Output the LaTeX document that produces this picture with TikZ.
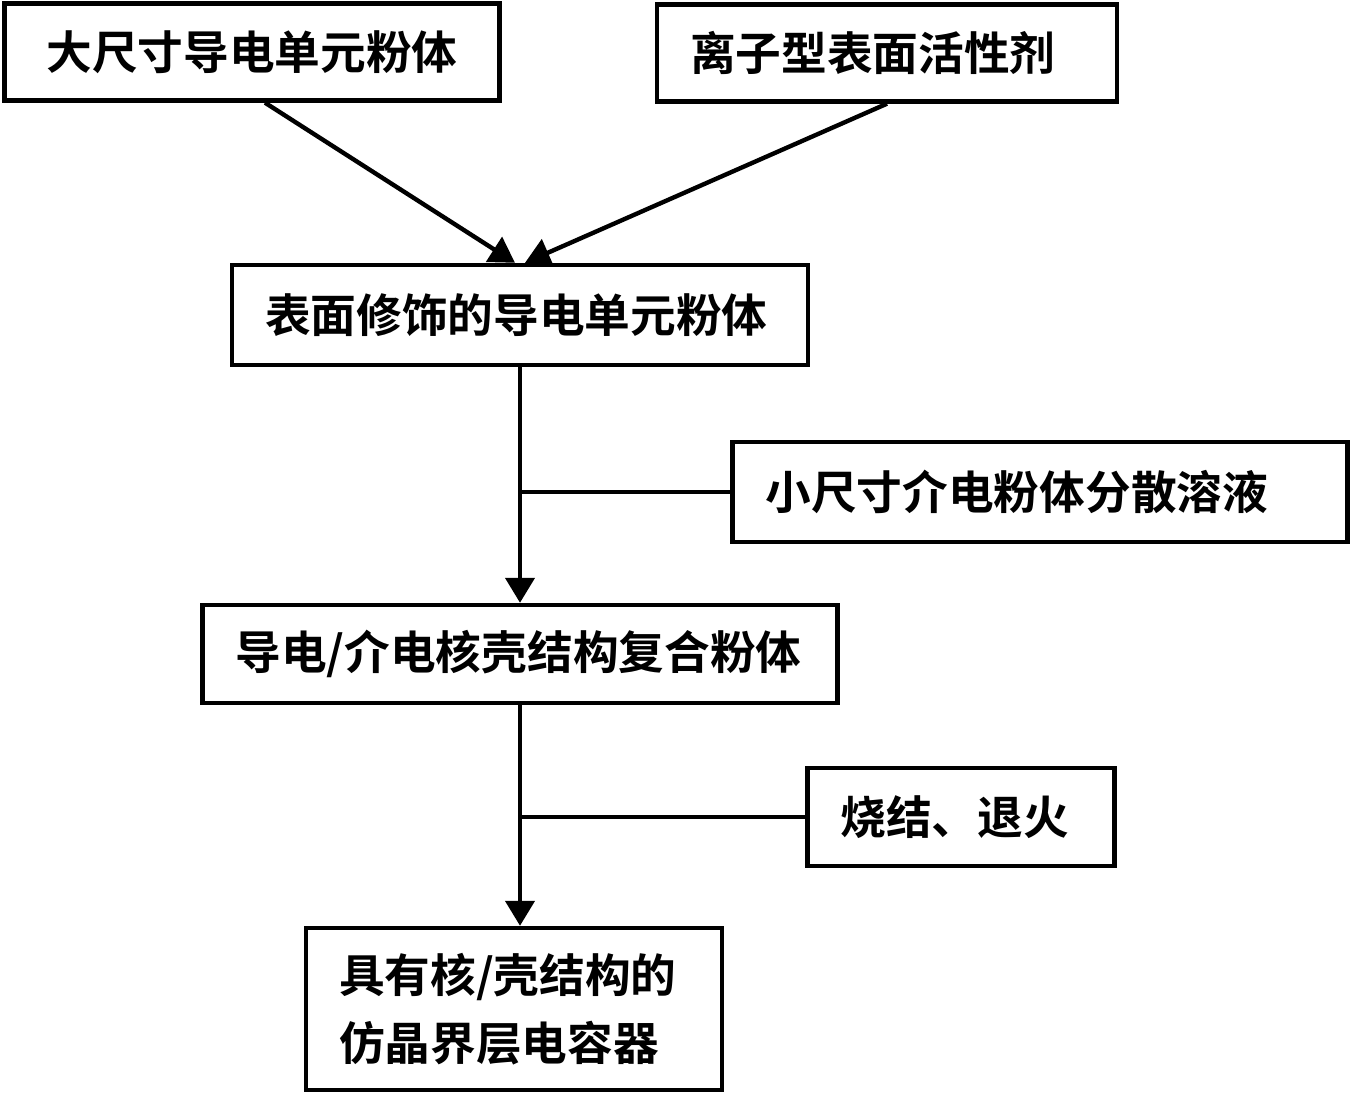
\documentclass[tikz,border=0pt]{standalone}
\usepackage{fontspec}
\newfontfamily\cjk{Noto Sans CJK SC}[BoldFont={Noto Sans CJK SC Bold}]
\usetikzlibrary{arrows.meta}

\begin{document}
\begin{tikzpicture}[
  box/.style={draw, line width=2.5pt, inner xsep=0.66cm, inner ysep=0pt,
    align=left, font=\cjk\bfseries\fontsize{26}{39}\selectfont},
  line/.style={line width=2.5pt},
  arr/.style={line width=2.5pt, -{Triangle[width=0.58cm, length=0.5cm]}}]
  \useasboundingbox (0,0) rectangle (27.02,21.96);

  % boxes
  \node[box, align=center, text width=8.58cm, minimum height=1.94cm] (big) at (5.04,20.92) {大尺寸导电单元粉体};
  \node[box, text width=7.88cm, minimum height=1.94cm] (surf) at (17.74,20.9) {离子型表面活性剂};
  \node[box, text width=10.2cm, minimum height=2.0cm] (mod) at (10.4,15.66) {表面修饰的导电单元粉体};
  \node[box, text width=10.98cm, minimum height=2.0cm] (disp) at (20.8,12.12) {小尺寸介电粉体分散溶液};
  \node[box, text width=11.38cm, minimum height=1.96cm] (core) at (10.4,8.88) {导电/介电核壳结构复合粉体};
  \node[box, text width=4.82cm, minimum height=1.96cm] (sint) at (19.22,5.62) {烧结、退火};
  \node[box, text width=7.0cm, minimum height=3.24cm] (cap) at (10.28,1.78) {具有核/壳结构的\\仿晶界层电容器};

  % arrows
  \draw[arr] ([xshift=0.26cm]big.south) -- ([xshift=-0.1cm]mod.north);
  \draw[arr] (surf.south) -- ([xshift=0.1cm]mod.north);
  \draw[arr] (mod.south) -- (core.north);
  \draw[line] (disp.west) -- (disp.west -| mod.south);
  \draw[arr] (core.south) -- (core.south |- cap.north);
  \draw[line] (sint.west) -- (sint.west -| core.south);
\end{tikzpicture}
\end{document}
